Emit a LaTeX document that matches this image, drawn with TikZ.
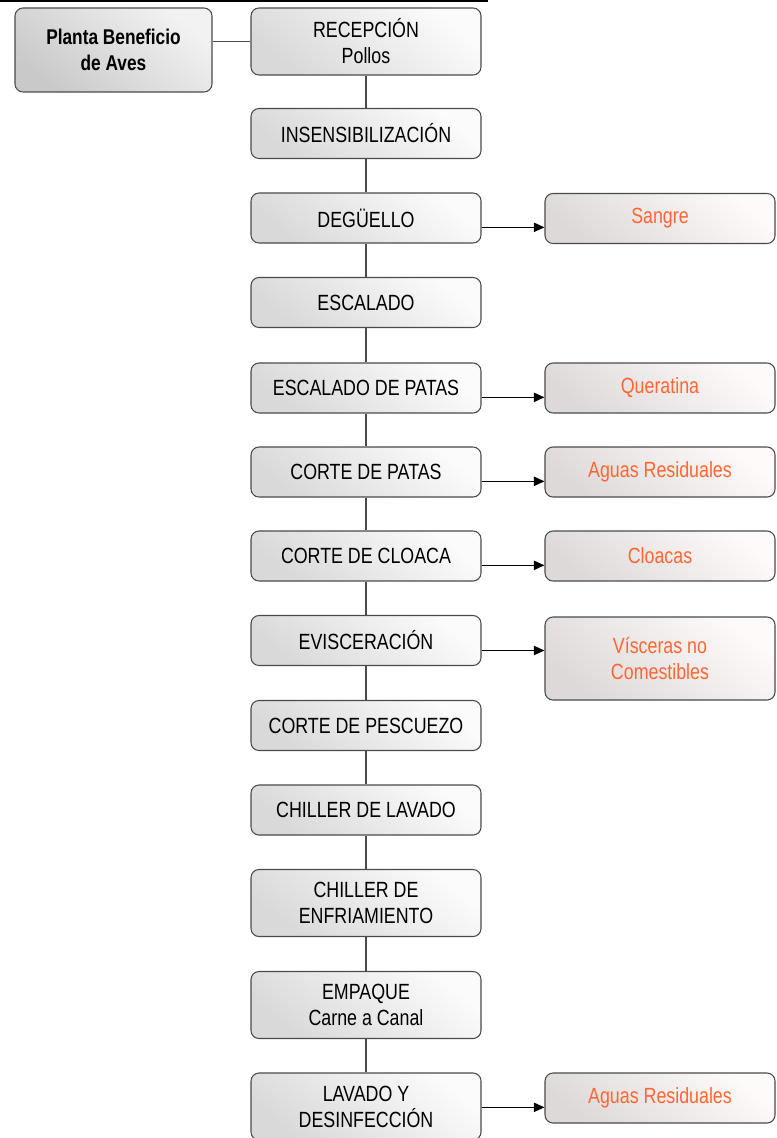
\documentclass[tikz,border=0pt]{standalone}
\usepackage{fontspec}
\setmainfont{Liberation Sans}[FakeStretch=0.81]
\usetikzlibrary{positioning,arrows.meta,calc}
\definecolor{wasteorange}{HTML}{FF6633}
\definecolor{boxedge}{HTML}{4A4A4A}
\tikzset{
  stage/.style={draw=boxedge, line width=0.8pt, rounded corners=6pt,
    align=center, inner sep=2pt, font=\fontsize{16.5}{19.5}\selectfont,
    minimum width=172.5pt, minimum height=37.5pt,
    top color=white!97!gray, bottom color=gray!30, shading angle=-40},
  tallstage/.style={stage, minimum height=50.25pt},
  plant/.style={stage, font=\fontsize{16}{19.5}\selectfont\bfseries,
    minimum width=147.75pt, minimum height=63pt,
    top color=gray!10, bottom color=gray!42, shading angle=-40},
  waste/.style={stage, text=wasteorange,
    top color=red!2, bottom color=red!6!gray!28, shading angle=-40},
  link/.style={draw=boxedge, line width=1pt},
  flow/.style={-{Triangle[length=8pt,width=7pt]}, line width=1pt, draw=black},
}
\begin{document}
\begin{tikzpicture}[x=0.75pt,y=-0.75pt]
\useasboundingbox (0,0) rectangle (776,1138);
\fill[black] (0,0) rectangle (488,2.5);
% process column
\node[plant] (planta) at (113.5,50) {Planta Beneficio\\de Aves};
\node[tallstage] (recep) at (366,41.5) {RECEPCIÓN\\Pollos};
\node[stage] (insens) at (366,133.5) {INSENSIBILIZACIÓN};
\node[stage] (degu) at (366,218) {DEGÜELLO};
\node[stage] (escal) at (366,302.5) {ESCALADO};
\node[stage] (patas) at (366,388) {ESCALADO DE PATAS};
\node[stage] (cortep) at (366,472) {CORTE DE PATAS};
\node[stage] (cloaca) at (366,556) {CORTE DE CLOACA};
\node[stage] (evisc) at (366,640.5) {EVISCERACIÓN};
\node[stage] (pescu) at (366,725.5) {CORTE DE PESCUEZO};
\node[stage] (chilav) at (366,810) {CHILLER DE LAVADO};
\node[tallstage] (chienf) at (366,903) {CHILLER DE\\ENFRIAMIENTO};
\node[tallstage] (empaq) at (366,1005) {EMPAQUE\\Carne a Canal};
\node[tallstage] (lavado) at (366,1106.5) {LAVADO Y\\DESINFECCIÓN};
% by-products
\node[waste] (sangre) at (660,218.5) {Sangre};
\node[waste] (querat) at (660,388) {Queratina};
\node[waste] (aguas) at (660,472) {Aguas Residuales};
\node[waste] (cloacas) at (660,556) {Cloacas};
\node[waste, minimum height=62.25pt] (visc) at (660,658.5) {Vísceras no\\Comestibles};
\node[waste] (aguasb) at (660,1098) {Aguas Residuales};
% plain links down the column
\draw[link] (planta.east |- recep.west) -- (recep.west);
\draw[link] (recep) -- (insens);
\draw[link] (insens) -- (degu);
\draw[link] (degu) -- (escal);
\draw[link] (escal) -- (patas);
\draw[link] (patas) -- (cortep);
\draw[link] (cortep) -- (cloaca);
\draw[link] (cloaca) -- (evisc);
\draw[link] (evisc) -- (pescu);
\draw[link] (pescu) -- (chilav);
\draw[link] (chilav) -- (chienf);
\draw[link] (chienf) -- (empaq);
\draw[link] (empaq) -- (lavado);
% arrows out to the by-products
\draw[flow] ([yshift=-7pt]degu.east) -- ([yshift=-7pt]degu.east -| sangre.west);
\draw[flow] ([yshift=-7pt]patas.east) -- ([yshift=-7pt]patas.east -| querat.west);
\draw[flow] ([yshift=-7pt]cortep.east) -- ([yshift=-7pt]cortep.east -| aguas.west);
\draw[flow] ([yshift=-7pt]cloaca.east) -- ([yshift=-7pt]cloaca.east -| cloacas.west);
\draw[flow] ([yshift=-7.5pt]evisc.east) -- ([yshift=-7.5pt]evisc.east -| visc.west);
\draw[flow] ([yshift=-7pt]aguasb.west -| lavado.east) -- ([yshift=-7pt]aguasb.west);
\end{tikzpicture}
\end{document}
